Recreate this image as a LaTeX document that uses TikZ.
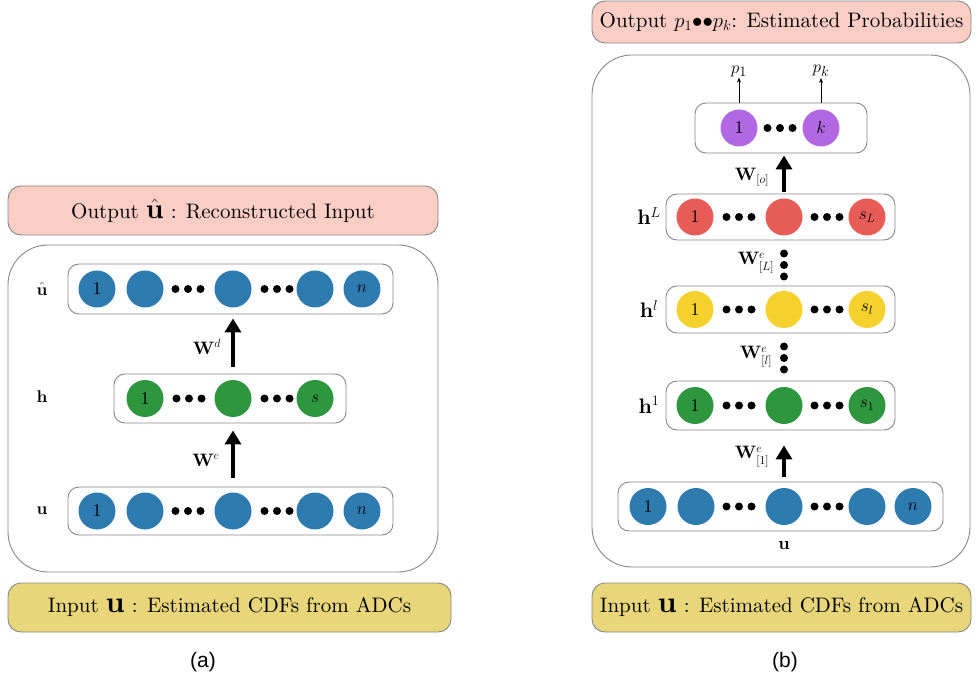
\documentclass[tikz,border=0pt]{standalone}
\usepackage{fontspec}
\usepackage{amsmath}
\usepackage{amssymb}
\usetikzlibrary{arrows.meta}
\setmainfont{lmroman10}[Extension=.otf, UprightFont=*-regular, BoldFont=*-bold, ItalicFont=*-italic, BoldItalicFont=*-bolditalic]
\newfontfamily\captionfont{Liberation Sans}
\definecolor{unitBlue}{RGB}{46,123,176}
\definecolor{unitGreen}{RGB}{46,150,62}
\definecolor{unitYellow}{RGB}{244,209,45}
\definecolor{unitRed}{RGB}{232,92,88}
\definecolor{unitPurple}{RGB}{178,104,226}
\definecolor{bannerPink}{RGB}{250,205,197}
\definecolor{bannerKhaki}{RGB}{233,214,122}
\definecolor{frameGray}{RGB}{135,135,135}
\newcommand{\dotTrio}[2]{\fill (#1-12.5,#2) circle (4) (#1,#2) circle (4) (#1+12.5,#2) circle (4);}
\newcommand{\dotColumn}[2]{\fill (#1,#2-11.5) circle (4) (#1,#2) circle (4) (#1,#2+11.5) circle (4);}
\begin{document}
\begin{tikzpicture}[x=1pt, y=-1pt,
  panelStyle/.style={draw=frameGray, line width=0.9pt, rounded corners=40pt},
  bannerStyle/.style={draw=frameGray, line width=0.9pt, rounded corners=13pt, inner sep=0pt, font=\fontsize{21}{24}\selectfont},
  rowStyle/.style={draw=frameGray, line width=0.9pt, rounded corners=11pt, inner sep=0pt},
  unitStyle/.style={circle, minimum size=37pt, inner sep=0pt, font=\fontsize{18}{20}\selectfont},
  labelStyle/.style={font=\fontsize{17}{20}\selectfont},
  layerStyle/.style={font=\fontsize{21}{24}\selectfont},
  weightStyle/.style={font=\fontsize{18}{20}\selectfont, inner sep=1pt},
  captionStyle/.style={font=\captionfont\fontsize{21}{24}\selectfont},
  bigArrow/.style={line width=4.5pt, -{Triangle[length=14pt, width=16pt]}},
  smallArrow/.style={line width=0.7pt, -{Stealth[length=5pt, width=4pt]}}
]
\useasboundingbox (0,0) rectangle (977,684);

% (a) autoencoder
\node [bannerStyle, fill=bannerPink, minimum width=430pt, minimum height=49pt] (outA) at (223,210.5) {Output {\fontsize{28}{28}\selectfont$\hat{\mathbf{u}}$} : Reconstructed Input};
\draw [panelStyle] (8,245) rectangle (438,572);

\node [rowStyle, minimum width=325pt, minimum height=50pt] (uhatRow) at (230.5,289) {};
\foreach \px/\nm/\tx in {97/1/1, 145/2/{}, 233/3/{}, 315/4/{}, 362/5/$n$}
  \node [unitStyle, fill=unitBlue] (uhat\nm) at (\px,289) {\tx};
\dotTrio{188}{289} \dotTrio{277}{289}
\node [labelStyle] (uhatLab) at (42,289) {$\hat{\mathbf{u}}$};

\node [rowStyle, minimum width=232pt, minimum height=49pt] (hRow) at (230,398.5) {};
\foreach \px/\nm/\tx in {145/1/1, 233/2/{}, 315/3/$s$}
  \node [unitStyle, fill=unitGreen] (h\nm) at (\px,398.5) {\tx};
\dotTrio{189}{398.5} \dotTrio{277}{398.5}
\node [labelStyle] (hLab) at (42,397) {$\mathbf{h}$};

\node [rowStyle, minimum width=325pt, minimum height=48pt] (uRow) at (230.5,511) {};
\foreach \px/\nm/\tx in {97/1/1, 145/2/{}, 233/3/{}, 315/4/{}, 362/5/$n$}
  \node [unitStyle, fill=unitBlue] (u\nm) at (\px,511) {\tx};
\dotTrio{188}{511} \dotTrio{277}{511}
\node [labelStyle] (uLab) at (42,511) {$\mathbf{u}$};

\draw [bigArrow, shorten <=7pt, shorten >=4pt] (hRow.north -| h2) -- (uhatRow.south -| h2);
\node [weightStyle] (wdLab) at (207,347) {$\mathbf{W}^d$};
\draw [bigArrow, shorten <=9pt, shorten >=7pt] (uRow.north -| u3) -- (hRow.south -| u3);
\node [weightStyle] (weLab) at (206,460) {$\mathbf{W}^e$};

\node [bannerStyle, fill=bannerKhaki, minimum width=443pt, minimum height=49pt] (inA) at (229.5,607.5) {Input {\fontsize{30}{30}\selectfont$\mathbf{u}$} : Estimated CDFs from ADCs};
\node [captionStyle] (capA) at (203,662) {(a)};

% (b) classifier
\node [bannerStyle, fill=bannerPink, minimum width=379pt, minimum height=42pt] (outB) at (781.5,22) {Output $p_1{\bullet}{\bullet}p_k$: Estimated Probabilities};
\draw [panelStyle] (592,55) rectangle (970,567);

\node [rowStyle, minimum width=172pt, minimum height=50pt] (oRow) at (781,128) {};
\node [unitStyle, fill=unitPurple] (o1) at (739,128) {1};
\node [unitStyle, fill=unitPurple] (o2) at (821,128) {$k$};
\dotTrio{780}{128}
\node [weightStyle, font=\fontsize{19}{21}\selectfont] (p1Lab) at (739,71) {$p_1$};
\node [weightStyle, font=\fontsize{19}{21}\selectfont] (pkLab) at (821,71) {$p_k$};
\draw [smallArrow] (oRow.north -| o1) -- (p1Lab.south);
\draw [smallArrow] (oRow.north -| o2) -- (pkLab.south);

\node [rowStyle, minimum width=229pt, minimum height=46pt] (hLRow) at (780.5,217) {};
\foreach \px/\nm/\tx in {695/1/1, 784/2/{}, 867/3/$s_L$}
  \node [unitStyle, fill=unitRed] (hL\nm) at (\px,217) {\tx};
\dotTrio{739}{217} \dotTrio{827}{217}
\node [layerStyle] (hLLab) at (649,216) {$\mathbf{h}^L$};

\node [rowStyle, minimum width=229pt, minimum height=47pt] (hlRow) at (780.5,309.5) {};
\foreach \px/\nm/\tx in {695/1/1, 784/2/{}, 867/3/$s_l$}
  \node [unitStyle, fill=unitYellow] (hl\nm) at (\px,309.5) {\tx};
\dotTrio{739}{309.5} \dotTrio{827}{309.5}
\node [layerStyle] (hlLab) at (649,309) {$\mathbf{h}^l$};

\node [rowStyle, minimum width=229pt, minimum height=49pt] (hoRow) at (780.5,405.5) {};
\foreach \px/\nm/\tx in {695/1/1, 784/2/{}, 867/3/$s_1$}
  \node [unitStyle, fill=unitGreen] (ho\nm) at (\px,405.5) {\tx};
\dotTrio{739}{405.5} \dotTrio{827}{405.5}
\node [layerStyle] (hoLab) at (649,405) {$\mathbf{h}^1$};

\node [rowStyle, minimum width=325pt, minimum height=49pt] (ubRow) at (780.5,506.5) {};
\foreach \px/\nm/\tx in {648/1/1, 696/2/{}, 784/3/{}, 867/4/{}, 913/5/$n$}
  \node [unitStyle, fill=unitBlue] (ub\nm) at (\px,506.5) {\tx};
\dotTrio{739}{506.5} \dotTrio{827}{506.5}
\node [weightStyle] (ubLab) at (784,546) {$\mathbf{u}$};

\draw [bigArrow, shorten <=2pt, shorten >=2pt] (hLRow.north -| hL2) -- (oRow.south -| hL2);
\node [weightStyle] (woLab) at (752,177) {$\mathbf{W}_{[o]}$};
\dotColumn{784}{265}
\node [weightStyle] (wLLab) at (756,263) {$\mathbf{W}^e_{[L]}$};
\dotColumn{784}{358}
\node [weightStyle] (wlLab) at (756,357) {$\mathbf{W}^e_{[l]}$};
\draw [bigArrow, shorten <=5pt, shorten >=15pt] (ubRow.north -| ub3) -- (hoRow.south -| ub3);
\node [weightStyle] (w1Lab) at (752,457) {$\mathbf{W}^e_{[1]}$};

\node [bannerStyle, fill=bannerKhaki, minimum width=379pt, minimum height=49pt] (inB) at (781.5,607.5) {Input {\fontsize{30}{30}\selectfont$\mathbf{u}$} : Estimated CDFs from ADCs};
\node [captionStyle] (capB) at (785,662) {(b)};
\end{tikzpicture}
\end{document}
